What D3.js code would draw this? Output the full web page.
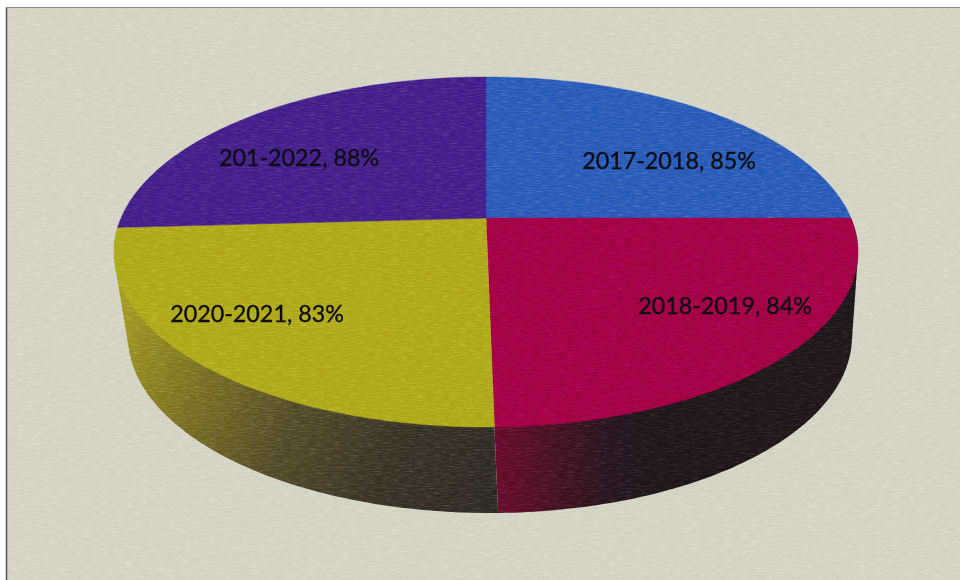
<!DOCTYPE html>
<meta charset="utf-8">
<style>
  html, body { margin: 0; padding: 0; background: #fff; }
  svg { display: block; }
</style>
<script src="https://d3js.org/d3.v7.min.js"></script>
<div id="my_dataviz"></div>
<script>

// Data (the "201-2022" label is spelled that way in the original)
var periods = ["2017-2018", "2018-2019", "2020-2021", "201-2022"];
var rates = [85, 84, 83, 88];

var faceColors = ["#2557b6", "#a00340", "#aca618", "#3f1c86"];

// Label centres, separate from the data
var labelX = [669, 725, 257, 299];
var labelY = [160, 305, 313, 157];

var width = 960, height = 580;

// Top face and lower rim of the tilted disc, on a unit circle domain
var topX = d3.scaleLinear().domain([-1, 1]).range([114, 858]);
var topY = d3.scaleLinear().domain([-1, 1]).range([77, 427]);
var rimX = d3.scaleLinear().domain([-1, 1]).range([128, 852]);
var rimY = d3.scaleLinear().domain([-1, 1]).range([160, 513]);

// Perspective shift: the pie's centre sits above the middle of the ellipse
var k = -0.194;

function project(angle) {
    var u = Math.sin(angle), v = -Math.cos(angle);
    var d = 1 + k * v;
    return [u * Math.sqrt(1 - k * k) / d, (v + k) / d];
}

function arcAngles(d) {
    var n = Math.ceil((d.endAngle - d.startAngle) * 60);
    return d3.range(n + 1).map(function(i) {
        return d.startAngle + (d.endAngle - d.startAngle) * i / n;
    });
}

var pie = d3.pie().sort(null)(rates);

var svg = d3.select("#my_dataviz")
    .append("svg")
    .attr("width", width)
    .attr("height", height);

var defs = svg.append("defs");

// Scan texture, stretched sideways like the scanner lines
var grain = defs.append("filter").attr("id", "grain")
    .attr("x", 0).attr("y", 0).attr("width", "100%").attr("height", "100%");
grain.append("feTurbulence")
    .attr("type", "fractalNoise")
    .attr("baseFrequency", "0.12 0.95")
    .attr("numOctaves", 2)
    .attr("seed", 4);
grain.append("feColorMatrix")
    .attr("values", "0.33 0.33 0.33 0 0  0.33 0.33 0.33 0 0  0.33 0.33 0.33 0 0  1.6 0 0 0 -0.55");

// Side wall shading
var yellowSide = defs.append("linearGradient").attr("id", "side-yellow")
    .attr("gradientUnits", "userSpaceOnUse")
    .attr("x1", 120).attr("y1", 300).attr("x2", 495).attr("y2", 470);
[[0, "#a09820"], [0.22, "#7d7220"], [0.5, "#4f4826"], [0.75, "#353024"], [1, "#2a2721"]].forEach(function(s) {
    yellowSide.append("stop").attr("offset", s[0]).attr("stop-color", s[1]);
});
var redSide = defs.append("linearGradient").attr("id", "side-red")
    .attr("gradientUnits", "userSpaceOnUse")
    .attr("x1", 495).attr("y1", 0).attr("x2", 660).attr("y2", 0);
[[0, "#640b27"], [0.35, "#42101f"], [0.7, "#22141a"], [1, "#1a1517"]].forEach(function(s) {
    redSide.append("stop").attr("offset", s[0]).attr("stop-color", s[1]);
});
var sideFills = [null, "url(#side-red)", "url(#side-yellow)", null];

// Paper
svg.append("rect")
    .attr("x", 6).attr("y", 7)
    .attr("width", width - 6).attr("height", height - 7)
    .attr("fill", "#d2d2c3");
svg.append("line")
    .attr("x1", 6.5).attr("x2", 6.5).attr("y1", 7).attr("y2", height)
    .attr("stroke", "#55555a").attr("stroke-width", 1.5);
svg.append("line")
    .attr("x1", 6).attr("x2", width).attr("y1", 7.5).attr("y2", 7.5)
    .attr("stroke", "#8a8a88").attr("stroke-width", 1);

// Side walls of the two front slices
svg.append("g").selectAll("path")
    .data(pie.filter(function(d) { return sideFills[d.index]; }))
    .enter()
    .append("path")
    .attr("fill", function(d) { return sideFills[d.index]; })
    .attr("d", function(d) {
        var pts = [];
        arcAngles(d).forEach(function(a) {
            var p = project(a);
            pts.push([topX(p[0]), topY(p[1])]);
            pts.push([rimX(p[0]), rimY(p[1])]);
        });
        return "M" + d3.polygonHull(pts).join("L") + "Z";
    });

// Top face
var line = d3.line();
svg.append("g").selectAll("path")
    .data(pie)
    .enter()
    .append("path")
    .attr("fill", function(d) { return faceColors[d.index]; })
    .attr("stroke", function(d) { return faceColors[d.index]; })
    .attr("stroke-width", 0.5)
    .attr("d", function(d) {
        var pts = arcAngles(d).map(function(a) {
            var p = project(a);
            return [topX(p[0]), topY(p[1])];
        });
        pts.unshift([topX(0), topY(k)]);
        return line(pts) + "Z";
    });

// Grain over everything but the text
svg.append("rect")
    .attr("x", 8).attr("y", 8)
    .attr("width", width - 8).attr("height", height - 8)
    .attr("filter", "url(#grain)")
    .style("mix-blend-mode", "soft-light");

// Labels
svg.append("g").selectAll("text")
    .data(pie)
    .enter()
    .append("text")
    .attr("x", function(d) { return labelX[d.index]; })
    .attr("y", function(d) { return labelY[d.index]; })
    .attr("text-anchor", "middle")
    .attr("dominant-baseline", "central")
    .style("font-family", "Lato, 'Open Sans', sans-serif")
    .style("font-size", "23.3px")
    .style("fill", "#0f0d14")
    .style("stroke", "#0f0d14")
    .style("stroke-width", 0.35)
    .text(function(d) { return periods[d.index] + ", " + d.value + "%"; });

</script>
